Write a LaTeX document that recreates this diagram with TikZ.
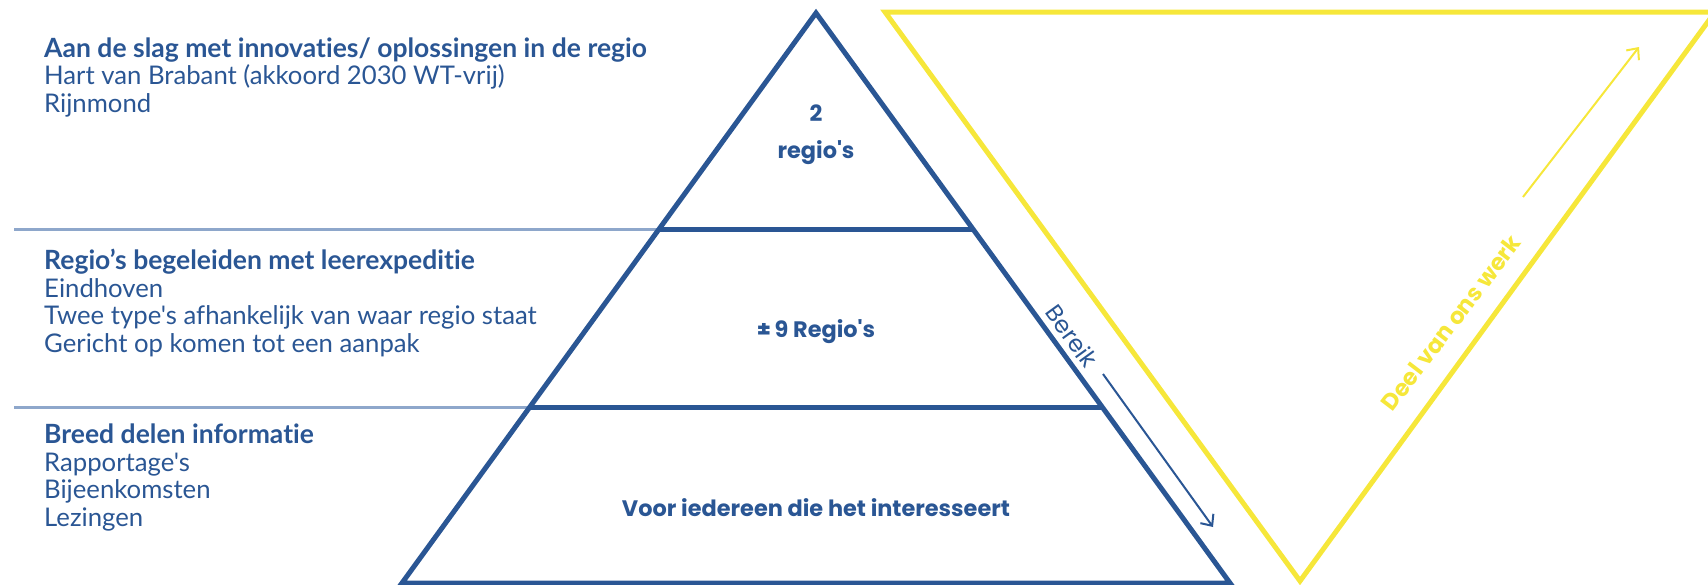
\documentclass[tikz,border=0pt]{standalone}
\usepackage{fontspec}
\newfontfamily\latofont{Lato}[Ligatures={NoCommon,NoRare}]
\newfontfamily\popfont{Poppins}
\usetikzlibrary{arrows.meta}
\definecolor{pblue}{HTML}{2A5694}
\definecolor{plight}{HTML}{8EA7CB}
\definecolor{pyellow}{HTML}{F6E73A}
\begin{document}
\begin{tikzpicture}[x=1pt,y=-1pt,
  lefthead/.style={anchor=base west,inner sep=0pt,text=pblue,font=\latofont\fontsize{26.5}{28}\selectfont\bfseries},
  leftline/.style={anchor=base west,inner sep=0pt,text=pblue,font=\latofont\fontsize{25.7}{28}\selectfont},
  midlabel/.style={inner sep=0pt,text=pblue,font=\popfont\fontsize{22.4}{26}\selectfont\bfseries},
  bluetri/.style={draw=pblue,line width=5pt,line join=miter},
  sepline/.style={draw=plight,line width=3pt},
  yellowtri/.style={draw=pyellow,line width=5pt,line join=miter},
  thinarrow/.style={line width=2pt,-{Straight Barb[length=9pt,width=16pt]}}]
\useasboundingbox (0,0) rectangle (1708,584);
% coordinates
\coordinate (apex) at (816,13);
\coordinate (bl) at (402,583);
\coordinate (br) at (1230,583);
\coordinate (l1) at (659,229);
\coordinate (r1) at (973,229);
\coordinate (l2) at (530,407);
\coordinate (r2) at (1102,407);
\coordinate (s1) at (14,229);
\coordinate (s2) at (14,407);
% separator lines
\draw[sepline] (s1) -- (l1);
\draw[sepline] (s2) -- (l2);
% blue pyramid
\draw[bluetri] (apex) -- (br) -- (bl) -- cycle;
\draw[bluetri] (l1) -- (r1);
\draw[bluetri] (l2) -- (r2);
% yellow triangle
\coordinate (ytl) at (885,12);
\coordinate (ytr) at (1715,12);
\coordinate (ybot) at (1300,581);
\draw[yellowtri] (ytl) -- (ytr) -- (ybot) -- cycle;
% left texts
\node[lefthead] (h1) at (44,57) {Aan de slag met innovaties/ oplossingen in de regio};
\node[leftline] (h1a) at (44,84) {Hart van Brabant (akkoord 2030 WT-vrij)};
\node[leftline] (h1b) at (44,112) {Rijnmond};
\node[lefthead] (h2) at (44,269) {Regio’s begeleiden met leerexpeditie};
\node[leftline] (h2a) at (44,297) {Eindhoven};
\node[leftline] (h2b) at (44,324) {Twee type's afhankelijk van waar regio staat};
\node[leftline] (h2c) at (44,352) {Gericht op komen tot een aanpak};
\node[lefthead] (h3) at (44,443) {Breed delen informatie};
\node[leftline] (h3a) at (44,471) {Rapportage's};
\node[leftline] (h3b) at (44,498) {Bijeenkomsten};
\node[leftline] (h3c) at (44,526) {Lezingen};
% middle labels
\node[midlabel] (m1) at (816,113) {2};
\node[midlabel] (m2) at (816,153) {regio's};
\node[midlabel] (m3) at (816,332) {±\,9 Regio's};
\node[midlabel] (m4) at (816,508) {Voor iedereen die het interesseert};
% Bereik
\node[text=pblue,font=\popfont\fontsize{23.5}{26}\selectfont,rotate=-54,inner sep=0pt] (bereik) at (1072,336) {Bereik};
\coordinate (ba) at (1103,374);
\coordinate (bb) at (1213,527);
\draw[pblue,thinarrow] (ba) -- (bb);
% Deel van ons werk
\node[text=pyellow,font=\popfont\fontsize{23}{26}\selectfont\bfseries,rotate=52.6,inner sep=0pt] (deel) at (1451,323) {Deel van ons werk};
\coordinate (ya) at (1523,197);
\coordinate (yb) at (1639,47);
\draw[pyellow,thinarrow] (ya) -- (yb);
\end{tikzpicture}
\end{document}
